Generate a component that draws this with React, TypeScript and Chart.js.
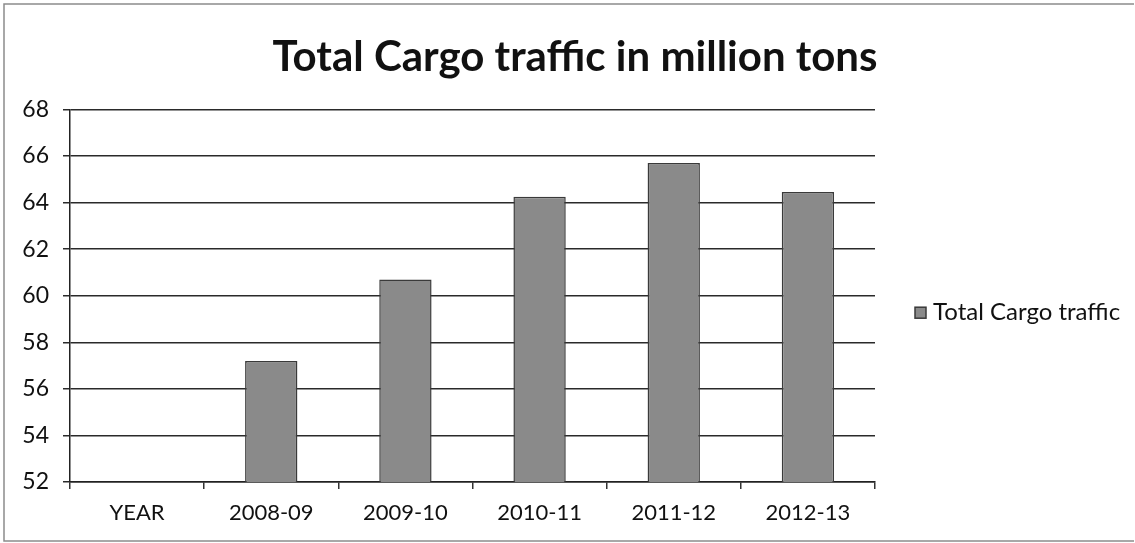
import React, { useEffect, useRef } from "react";
import { Chart, registerables } from "chart.js";

Chart.register(...registerables);

const categories = ["YEAR", "2008-09", "2009-10", "2010-11", "2011-12", "2012-13"];
const cargoTraffic: (number | null)[] = [null, 57.2, 60.7, 64.25, 65.7, 64.45];
const seriesLabel = "Total Cargo traffic";
const chartTitle = "Total Cargo traffic in million tons";
const yMin = 52;
const yMax = 68;
const yStep = 2;

const FONT = "Lato, 'Open Sans', sans-serif";

const overlayPlugin = {
  id: "overlay",
  afterDraw(chart: any) {
    const ctx = chart.ctx as CanvasRenderingContext2D;
    const ds = chart.data.datasets[0];
    ctx.save();
    // frame
    ctx.strokeStyle = "#8c8c8c";
    ctx.lineWidth = 1.5;
    ctx.beginPath();
    ctx.moveTo(1134, 4);
    ctx.lineTo(4, 4);
    ctx.lineTo(4, 541);
    ctx.lineTo(1134, 541);
    ctx.stroke();
    // legend
    const boxX = chart.chartArea.right + 40;
    const midY = (chart.chartArea.top + chart.chartArea.bottom) / 2 + 17;
    ctx.fillStyle = ds.backgroundColor;
    ctx.strokeStyle = ds.borderColor;
    ctx.lineWidth = 1.5;
    ctx.fillRect(boxX, midY - 5.5, 11, 11);
    ctx.strokeRect(boxX, midY - 5.5, 11, 11);
    ctx.fillStyle = "#111";
    ctx.font = `24px ${FONT}`;
    ctx.textBaseline = "middle";
    ctx.textAlign = "left";
    ctx.fillText(ds.label, boxX + 18, midY);
    ctx.restore();
  },
};

export default function App() {
  const ref = useRef<HTMLCanvasElement | null>(null);
  useEffect(() => {
    if (!ref.current) return;
    const chart = new Chart(ref.current, {
      type: "bar",
      data: {
        labels: categories,
        datasets: [
          {
            label: seriesLabel,
            data: cargoTraffic,
            backgroundColor: "#8a8a8a",
            borderColor: "#3a3a3a",
            borderWidth: 1.5,
            categoryPercentage: 1,
            barPercentage: 0.39,
          },
        ],
      },
      options: {
        responsive: false,
        animation: false,
        devicePixelRatio: 1,
        layout: { padding: { left: 15, right: 0, top: 0, bottom: 0 } },
        plugins: {
          legend: { display: false },
          tooltip: { enabled: false },
          title: {
            display: true,
            text: chartTitle,
            color: "#111",
            font: { family: FONT, size: 42, weight: "bold" },
            padding: { top: 32, bottom: 27 },
          },
        },
        scales: {
          x: {
            grid: {
              display: true,
              drawOnChartArea: false,
              drawTicks: true,
              tickLength: 7,
              color: "#333",
              lineWidth: 1.5,
              offset: true,
            },
            border: { display: true, color: "#222", width: 1.5 },
            ticks: { color: "#111", font: { family: FONT, size: 22 }, padding: 11 },
            afterFit: (scale: any) => {
              scale.height = 61;
            },
          },
          y: {
            min: yMin,
            max: yMax,
            ticks: {
              stepSize: yStep,
              color: "#111",
              font: { family: FONT, size: 23 },
              padding: 14,
            },
            grid: { color: "#2a2a2a", lineWidth: 1.5, tickLength: 7 },
            border: { display: true, color: "#222", width: 1.5 },
            afterFit: (scale: any) => {
              scale.width = 55;
            },
          },
          yR: {
            type: "linear",
            position: "right",
            display: true,
            ticks: { display: false },
            grid: { display: false, drawTicks: false },
            border: { display: false },
            afterFit: (scale: any) => {
              scale.width = 260;
            },
          },
        },
      },
      plugins: [overlayPlugin],
    });
    return () => chart.destroy();
  }, []);
  return (
    <div style={{ position: "fixed", left: 0, top: 0, width: 1135, height: 543, background: "#fff" }}>
      <canvas ref={ref} width={1135} height={543} />
    </div>
  );
}
